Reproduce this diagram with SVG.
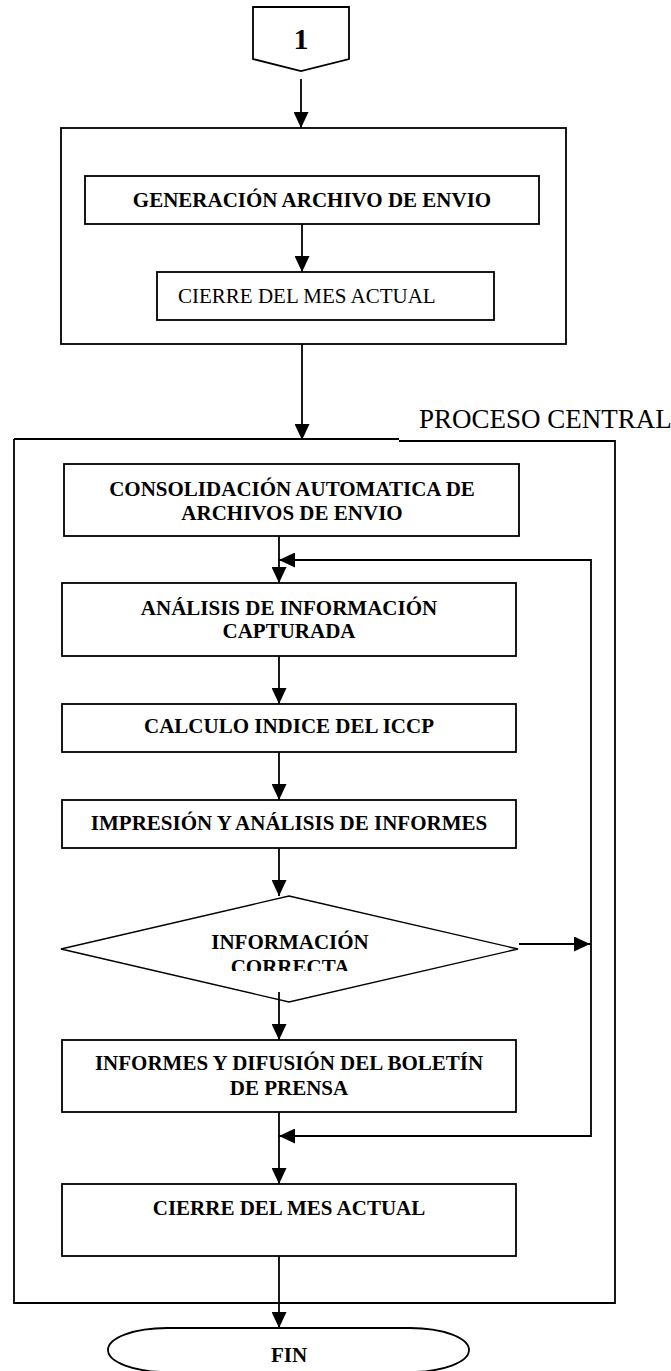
<svg xmlns="http://www.w3.org/2000/svg" width="671" height="1371" viewBox="0 0 671 1371">
<style>
.box{fill:#fff;stroke:#000;stroke-width:1.8}
.cont{fill:none;stroke:#000;stroke-width:1.8}
.dia{fill:#fff;stroke:#000;stroke-width:1.4}
.con{fill:none;stroke:#000;stroke-width:1.8}
.b{font-family:"Liberation Serif","Times New Roman",serif;font-weight:bold;font-size:21px;fill:#000;text-anchor:middle}
.n{font-family:"Liberation Serif","Times New Roman",serif;font-size:21px;fill:#000}
</style>
<defs>
<marker id="ah" viewBox="0 0 16 15" refX="16" refY="7.5" markerWidth="16" markerHeight="15" orient="auto" markerUnits="userSpaceOnUse">
<path d="M0,0 L16,7.5 L0,15 Z" fill="#000"/>
</marker>
<clipPath id="clipCorr"><rect x="0" y="900" width="671" height="71"/></clipPath>
</defs>
<rect width="671" height="1371" fill="#fff"/>

<g id="container-top">
<rect class="cont" x="61" y="128" width="505" height="216"/>
</g>
<g id="container-central">
<path class="cont" d="M14,439 H399 M399,441 H615 V1303 H14 V439"/>
<text class="n" x="419" y="428" style="font-size:27px">PROCESO CENTRAL</text>
</g>

<g id="n-start">
<polygon class="box" points="253,7 349,7 349,59 301,71 253,59"/>
<text class="b" x="301" y="49" style="font-size:30px">1</text>
</g>
<g id="n-generacion">
<rect class="box" x="85" y="176" width="454" height="48"/>
<text class="b" x="312" y="207">GENERACIÓN ARCHIVO DE ENVIO</text>
</g>
<g id="n-cierre1">
<rect class="box" x="157" y="272" width="337" height="48"/>
<text class="n" x="178" y="303">CIERRE DEL MES ACTUAL</text>
</g>
<g id="n-consolidacion">
<rect class="box" x="64" y="464" width="455" height="72"/>
<text class="b" x="292" y="496">CONSOLIDACIÓN AUTOMATICA DE</text>
<text class="b" x="292" y="520">ARCHIVOS DE ENVIO</text>
</g>
<g id="n-analisis">
<rect class="box" x="62" y="583" width="454" height="73"/>
<text class="b" x="289" y="615">ANÁLISIS DE INFORMACIÓN</text>
<text class="b" x="289" y="638">CAPTURADA</text>
</g>
<g id="n-calculo">
<rect class="box" x="62" y="704" width="454" height="48"/>
<text class="b" x="289" y="733">CALCULO INDICE DEL ICCP</text>
</g>
<g id="n-impresion">
<rect class="box" x="62" y="800" width="454" height="48"/>
<text class="b" x="289" y="830">IMPRESIÓN Y ANÁLISIS DE INFORMES</text>
</g>
<g id="n-decision">
<polygon class="dia" points="289,896 518,949 289,1002 61,949"/>
<text class="b" x="290" y="949">INFORMACIÓN</text>
<text class="b" x="290" y="974" clip-path="url(#clipCorr)">CORRECTA</text>
</g>
<g id="n-informes">
<rect class="box" x="62" y="1040" width="454" height="72"/>
<text class="b" x="289" y="1070">INFORMES Y DIFUSIÓN DEL BOLETÍN</text>
<text class="b" x="289" y="1095">DE PRENSA</text>
</g>
<g id="n-cierre2">
<rect class="box" x="62" y="1184" width="454" height="72"/>
<text class="b" x="289" y="1215">CIERRE DEL MES ACTUAL</text>
</g>
<g id="n-fin">
<rect class="box" x="108" y="1328" width="361" height="44" rx="59" ry="22"/>
<text class="b" x="289" y="1362">FIN</text>
</g>

<g id="connectors">
<path class="con" d="M301,79 V128" marker-end="url(#ah)"/>
<path class="con" d="M302,224 V272" marker-end="url(#ah)"/>
<path class="con" d="M302,344 V440" marker-end="url(#ah)"/>
<path class="con" d="M279,536 V583" marker-end="url(#ah)"/>
<path class="con" d="M279,656 V704" marker-end="url(#ah)"/>
<path class="con" d="M279,752 V800" marker-end="url(#ah)"/>
<path class="con" d="M279,848 V896" marker-end="url(#ah)"/>
<path class="con" d="M279,992 V1040" marker-end="url(#ah)"/>
<path class="con" d="M279,1112 V1184" marker-end="url(#ah)"/>
<path class="con" d="M279,1256 V1328" marker-end="url(#ah)"/>
<path class="con" d="M519,944 H590" marker-end="url(#ah)"/>
<path class="con" d="M591,944 V560 H279" marker-end="url(#ah)"/>
<path class="con" d="M591,944 V1136 H279" marker-end="url(#ah)"/>
</g>
</svg>
